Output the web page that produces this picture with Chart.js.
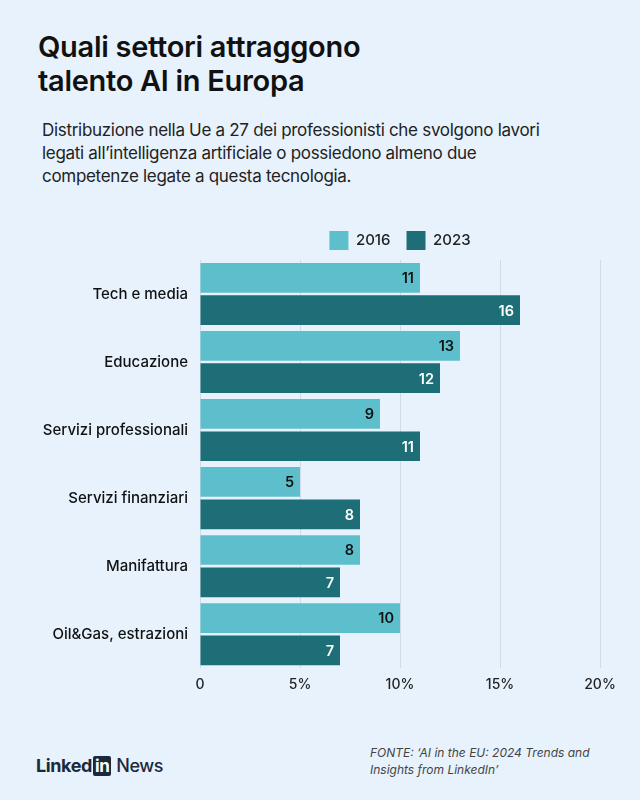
<!DOCTYPE html>
<html>
<head>
<meta charset="utf-8">
<script src="https://cdn.jsdelivr.net/npm/chart.js@4.4.1/dist/chart.umd.min.js"></script>
<style>
  html, body { margin: 0; padding: 0; }
  body { width: 640px; height: 800px; background: #e7f2fd; position: relative; overflow: hidden; font-family: Inter, "Noto Sans", sans-serif; color: #111; }
  h1 { position: absolute; left: 38px; top: 30px; margin: 0; font-size: 29px; line-height: 34px; font-weight: 600; letter-spacing: -0.3px; }
  .sub { position: absolute; left: 42px; top: 119px; width: 580px; font-size: 17px; line-height: 23px; color: #222; letter-spacing: -0.3px; }
  #wrap { position: absolute; left: 0; top: 211px; width: 640px; height: 500px; }
  .logo { position: absolute; left: 36px; top: 755px; font-size: 18px; font-weight: 700; color: #1b2a3a; letter-spacing: -0.4px; }
  .logo .in { display: inline-block; background: #1b2a3a; color: #fff; border-radius: 2px; padding: 0 2px; margin: 0 1px; font-size: 17px; line-height: 20px; }
  .logo .news { font-weight: 500; }
  .src { position: absolute; left: 370px; top: 744px; font-size: 12px; line-height: 17px; font-style: italic; color: #444; }
</style>
</head>
<body>
<h1>Quali settori attraggono<br>talento AI in Europa</h1>
<div class="sub">Distribuzione nella Ue a 27 dei professionisti che svolgono lavori<br>legati all’intelligenza artificiale o possiedono almeno due<br>competenze legate a questa tecnologia.</div>
<div id="wrap"><canvas id="grafico"></canvas></div>
<div class="logo">Linked<span class="in">in</span> <span class="news">News</span></div>
<div class="src">FONTE: ‘AI in the EU: 2024 Trends and<br>Insights from LinkedIn’</div>
<script>
const settori = ['Tech e media', 'Educazione', 'Servizi professionali', 'Servizi finanziari', 'Manifattura', 'Oil&Gas, estrazioni'];
const valori2016 = [11, 13, 9, 5, 8, 10];
const valori2023 = [16, 12, 11, 8, 7, 7];
const etichetteAnni = ['2016', '2023'];
const ticksX = [0, 5, 10, 15, 20];

const coloreChiaro = '#5ebfcc';
const coloreScuro = '#1e6e77';

// etichette dei valori dentro le barre
const etichetteBarre = {
    id: 'etichetteBarre',
    afterDatasetsDraw(chart) {
        const ctx = chart.ctx;
        ctx.save();
        ctx.font = '600 14.5px Inter, sans-serif';
        ctx.textAlign = 'right';
        ctx.textBaseline = 'middle';
        chart.data.datasets.forEach((ds, i) => {
            chart.getDatasetMeta(i).data.forEach((bar, j) => {
                ctx.fillStyle = i === 0 ? '#111' : '#fff';
                ctx.fillText(ds.data[j], bar.x - 6, bar.y + 1);
            });
        });
        ctx.restore();
    }
};

new Chart(document.getElementById('grafico').getContext('2d'), {
    type: 'bar',
    data: {
        labels: settori,
        datasets: [
            { label: etichetteAnni[0], data: valori2016, backgroundColor: coloreChiaro },
            { label: etichetteAnni[1], data: valori2023, backgroundColor: coloreScuro }
        ]
    },
    options: {
        indexAxis: 'y',
        responsive: true,
        maintainAspectRatio: false,
        animation: false,
        categoryPercentage: 0.95,
        barPercentage: 0.92,
        layout: { padding: { top: 4, right: 40, bottom: 10 } },
        plugins: {
            tooltip: { enabled: false },
            legend: {
                fullSize: false,
                labels: {
                    color: '#222',
                    font: { family: 'Inter, sans-serif', size: 15, weight: '500' },
                    boxWidth: 19,
                    boxHeight: 19,
                    padding: 16
                }
            }
        },
        scales: {
            x: {
                min: 0,
                max: 20,
                afterBuildTicks: scale => { scale.ticks = ticksX.map(v => ({ value: v })); },
                ticks: {
                    color: '#222',
                    padding: 8,
                    font: { family: 'Inter, sans-serif', size: 14, weight: '500' },
                    callback: v => v === 0 ? '0' : v + '%'
                },
                grid: { color: '#cfdbe8', lineWidth: 1, drawTicks: false },
                border: { display: false }
            },
            y: {
                afterFit: scale => { scale.width = 200; },
                ticks: {
                    color: '#111',
                    padding: 4,
                    font: { family: 'Inter, sans-serif', size: 15, weight: '500' }
                },
                grid: { display: false },
                border: { display: false }
            }
        }
    },
    plugins: [etichetteBarre]
});
</script>
</body>
</html>
